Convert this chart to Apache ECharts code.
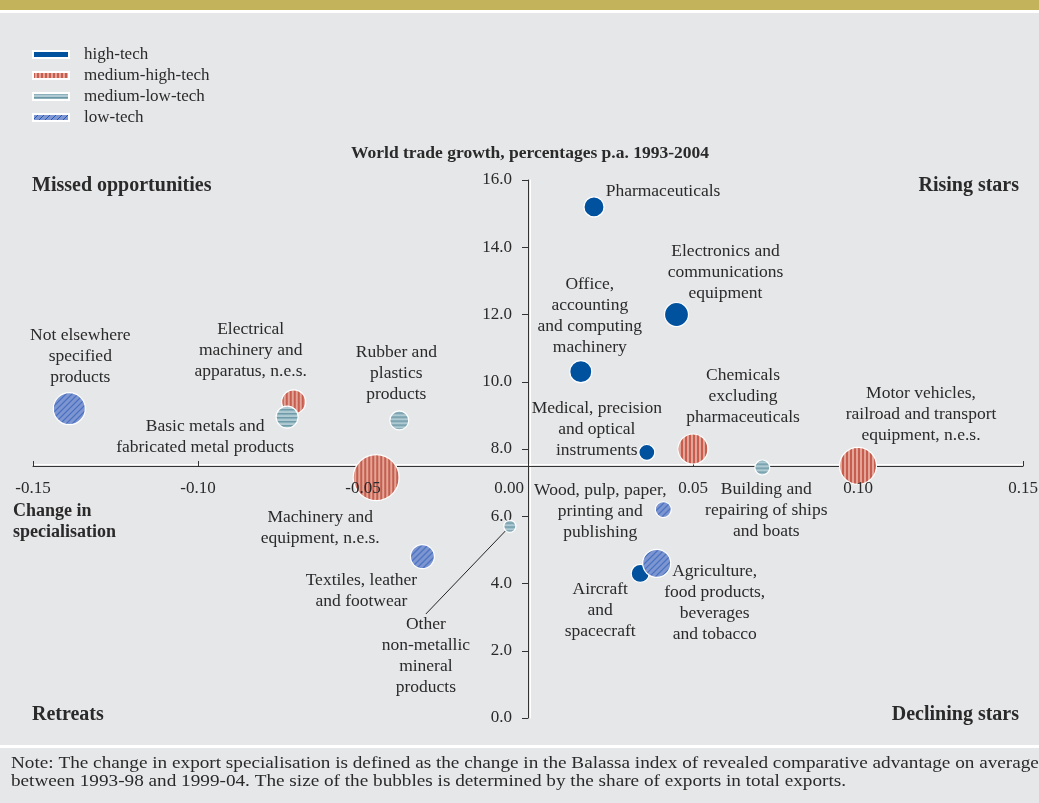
<!DOCTYPE html>
<html>
<head>
<meta charset="utf-8">
<title>Change in specialisation and world trade growth</title>
<script src="https://cdn.jsdelivr.net/npm/echarts@6/dist/echarts.min.js"></script>
<style>
  html, body { margin: 0; padding: 0; background: #e6e7e9; }
  #chart { width: 1039px; height: 803px; }
</style>
</head>
<body>
<div id="chart"></div>
<script>
// sectors (draw order follows the tech classes below)
const sectors = [
  'Pharmaceuticals', 'Electronics', 'Office machinery', 'Medical instruments', 'Aircraft',
  'Chemicals', 'Motor vehicles', 'Electrical machinery', 'Machinery',
  'Ships', 'Other non-metallic', 'Rubber', 'Basic metals',
  'Wood', 'Agriculture', 'Textiles', 'Not elsewhere specified'
];
const sectorLabels = [
  'Pharmaceuticals',
  'Electronics and\ncommunications\nequipment',
  'Office,\naccounting\nand computing\nmachinery',
  'Medical, precision\nand optical\ninstruments',
  'Aircraft\nand\nspacecraft',
  'Chemicals\nexcluding\npharmaceuticals',
  'Motor vehicles,\nrailroad and transport\nequipment, n.e.s.',
  'Electrical\nmachinery and\napparatus, n.e.s.',
  'Machinery and\nequipment, n.e.s.',
  'Building and\nrepairing of ships\nand boats',
  'Other\nnon-metallic\nmineral\nproducts',
  'Rubber and\nplastics\nproducts',
  'Basic metals and\nfabricated metal products',
  'Wood, pulp, paper,\nprinting and\npublishing',
  'Agriculture,\nfood products,\nbeverages\nand tobacco',
  'Textiles, leather\nand footwear',
  'Not elsewhere\nspecified\nproducts'
];
const techClass = [
  'high-tech', 'high-tech', 'high-tech', 'high-tech', 'high-tech',
  'medium-high-tech', 'medium-high-tech', 'medium-high-tech', 'medium-high-tech',
  'medium-low-tech', 'medium-low-tech', 'medium-low-tech', 'medium-low-tech',
  'low-tech', 'low-tech', 'low-tech', 'low-tech'
];
// change in specialisation (x)
const changeInSpec = [
  0.020, 0.045, 0.016, 0.036, 0.034,
  0.050, 0.100, -0.071, -0.046,
  0.071, -0.0055, -0.039, -0.073,
  0.041, 0.039, -0.032, -0.139
];
// world trade growth, % p.a. 1993-2004 (y)
const tradeGrowth = [
  15.2, 12.0, 10.3, 7.9, 4.3,
  8.0, 7.5, 9.4, 7.15,
  7.45, 5.7, 8.85, 8.95,
  6.2, 4.6, 4.8, 9.2
];
// share of exports in total exports (bubble size)
const exportShare = [
  6.3, 9.0, 7.6, 4.0, 5.1,
  14.1, 21.4, 9.0, 33.1,
  3.5, 2.3, 5.6, 7.6,
  4.0, 12.3, 9.0, 16.0
];
const techClasses = ['high-tech', 'medium-high-tech', 'medium-low-tech', 'low-tech'];

// where each label sits relative to its bubble
const labelOffsets = [
  [69, -15], [49, -42], [9, -56], [-50, -23], [-40, 37],
  [50, -53], [63, -51], [-43, -52], [-56, 50],
  [4, 43], [-84, 76], [-3, -47], [-82, 20],
  [-63, 2], [58, 40], [-61, 34], [11, -52]
];

const FONT = '"Liberation Serif", "Times New Roman", serif';
const TEXT = '#2a2a2a';

// hatched fills
function makeTile(kind) {
  const c = document.createElement('canvas');
  const ctx = c.getContext('2d');
  if (kind === 'vertical') {
    c.width = 4; c.height = 4;
    ctx.fillStyle = '#e3a597'; ctx.fillRect(0, 0, 4, 4);
    ctx.fillStyle = '#c65d4e'; ctx.fillRect(0, 0, 2, 4);
  } else if (kind === 'horizontal') {
    c.width = 4; c.height = 4;
    ctx.fillStyle = '#afcad2'; ctx.fillRect(0, 0, 4, 4);
    ctx.fillStyle = '#6b97a5'; ctx.fillRect(0, 0, 4, 1.5);
  } else {
    c.width = 6; c.height = 6;
    ctx.fillStyle = '#7d95d0'; ctx.fillRect(0, 0, 6, 6);
    ctx.strokeStyle = '#2257b5'; ctx.lineWidth = 1;
    ctx.beginPath();
    ctx.moveTo(-1, 7); ctx.lineTo(7, -1);
    ctx.moveTo(-1, 1); ctx.lineTo(1, -1);
    ctx.moveTo(5, 7); ctx.lineTo(7, 5);
    ctx.stroke();
  }
  return c;
}

const classTile = {
  'medium-high-tech': makeTile('vertical'),
  'medium-low-tech': makeTile('horizontal'),
  'low-tech': makeTile('diagonal')
};

function classColor(cls, diameter) {
  if (cls === 'high-tech') return '#00519e';
  // symbols are drawn at unit size and scaled, so undo that for the tile
  const s = diameter ? 2 / diameter : 1;
  return { image: classTile[cls], repeat: 'repeat', scaleX: s, scaleY: s };
}

const bubbleDiameter = share => 8 * Math.sqrt(share);

const series = techClasses.map(cls => {
  const data = [];
  sectors.forEach((name, i) => {
    if (techClass[i] !== cls) return;
    const item = {
      name: name,
      value: [changeInSpec[i], tradeGrowth[i], exportShare[i]],
      itemStyle: { color: classColor(cls, bubbleDiameter(exportShare[i])) },
      label: { formatter: sectorLabels[i], offset: labelOffsets[i] }
    };
    if (name === 'Other non-metallic') {
      item.label.position = 'bottom';
      item.label.verticalAlign = 'top';
      item.labelLine = { show: true, lineStyle: { color: '#222', width: 1 } };
    }
    data.push(item);
  });
  return {
    name: cls,
    type: 'scatter',
    data: data,
    symbolSize: v => bubbleDiameter(v[2]),
    itemStyle: { color: classColor(cls, 0), borderColor: '#ffffff', borderWidth: 1.2, opacity: 1 },
    label: {
      show: true,
      position: 'inside',
      color: TEXT,
      fontFamily: FONT,
      fontSize: 17.5,
      lineHeight: 21,
      align: 'center'
    },
    emphasis: { disabled: true }
  };
});

const chart = echarts.init(document.getElementById('chart'));

const xAxisBase = {
  type: 'value',
  min: -0.15,
  max: 0.15,
  interval: 0.05,
  position: 'bottom',
  offset: -252,
  splitLine: { show: false }
};

chart.setOption({
  backgroundColor: '#e6e7e9',
  animation: false,
  grid: { left: 33, right: 16, top: 180, height: 538, outerBoundsMode: 'none', containLabel: false },
  legend: {
    orient: 'vertical',
    left: 32,
    top: 46,
    padding: 0,
    icon: 'rect',
    itemWidth: 36,
    itemHeight: 7,
    itemGap: 4,
    data: techClasses,
    textStyle: { fontFamily: FONT, fontSize: 17, color: TEXT, lineHeight: 15, padding: [0, 0, 0, 10] }
  },
  xAxis: [
    Object.assign({}, xAxisBase, {
      axisLine: { onZero: false, lineStyle: { color: '#333', width: 1, shadowColor: '#ffffff', shadowOffsetY: -2 } },
      axisTick: { inside: true, length: 5, lineStyle: { color: '#333' } },
      axisLabel: { show: false }
    }),
    Object.assign({}, xAxisBase, {
      z: 5,
      axisLine: { show: false, onZero: false },
      axisTick: { show: false },
      axisLabel: {
        margin: 14,
        fontFamily: FONT,
        fontSize: 17,
        color: TEXT,
        formatter: v => Math.abs(v) < 1e-9 ? '{z|0.00}' : v.toFixed(2),
        rich: { z: { fontFamily: FONT, fontSize: 17, color: TEXT, padding: [0, 38, 0, 0] } }
      }
    })
  ],
  yAxis: {
    type: 'value',
    min: 0,
    max: 16,
    interval: 2,
    position: 'left',
    offset: -495,
    axisLine: { onZero: false, lineStyle: { color: '#333', width: 1, shadowColor: '#ffffff', shadowOffsetX: 2 } },
    axisTick: { length: 6, lineStyle: { color: '#333' } },
    axisLabel: { margin: 16, fontFamily: FONT, fontSize: 17, color: TEXT, formatter: v => v.toFixed(1) },
    splitLine: { show: false }
  },
  graphic: [
    { type: 'rect', shape: { x: 0, y: 0, width: 1039, height: 10 }, style: { fill: '#c3b35b' }, silent: true },
    { type: 'rect', shape: { x: 0, y: 10, width: 1039, height: 3 }, style: { fill: '#ffffff' }, silent: true },
    { type: 'rect', shape: { x: 0, y: 745, width: 1039, height: 3 }, style: { fill: '#ffffff' }, silent: true },
    { type: 'text', x: 530, y: 153, style: { text: 'World trade growth, percentages p.a. 1993-2004', align: 'center', verticalAlign: 'middle', font: 'bold 17.5px ' + FONT, fill: TEXT } },
    { type: 'text', x: 32, y: 186, style: { text: 'Missed opportunities', align: 'left', verticalAlign: 'middle', font: 'bold 20px ' + FONT, fill: TEXT } },
    { type: 'text', x: 1019, y: 186, style: { text: 'Rising stars', align: 'right', verticalAlign: 'middle', font: 'bold 20px ' + FONT, fill: TEXT } },
    { type: 'text', x: 32, y: 715, style: { text: 'Retreats', align: 'left', verticalAlign: 'middle', font: 'bold 20px ' + FONT, fill: TEXT } },
    { type: 'text', x: 1019, y: 715, style: { text: 'Declining stars', align: 'right', verticalAlign: 'middle', font: 'bold 20px ' + FONT, fill: TEXT } },
    { type: 'text', x: 13, y: 501, style: { text: 'Change in\nspecialisation', align: 'left', verticalAlign: 'top', lineHeight: 21, font: 'bold 18px ' + FONT, fill: TEXT } },
    { type: 'text', x: 11, y: 755, scaleX: 1.2, style: { text: 'Note: The change in export specialisation is defined as the change in the Balassa index of revealed comparative advantage on average\nbetween 1993-98 and 1999-04. The size of the bubbles is determined by the share of exports in total exports.', align: 'left', verticalAlign: 'top', lineHeight: 18, font: '16px ' + FONT, fill: TEXT } }
  ],
  series: series
});
</script>
</body>
</html>
